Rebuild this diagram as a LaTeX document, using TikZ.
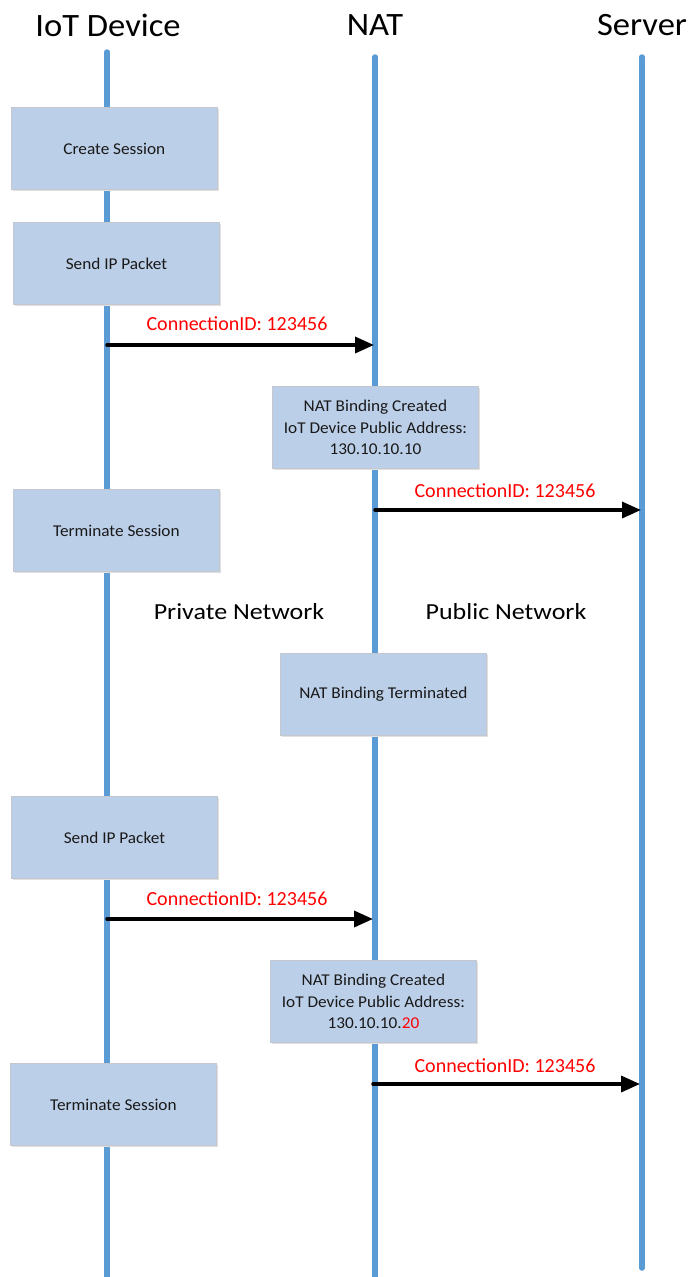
\documentclass[tikz,border=0pt]{standalone}
\usepackage{fontspec}
\setmainfont{Carlito}
\newfontfamily\actorfont{Carlito}[FakeStretch=1.06]
\newfontfamily\zonefont{Carlito}[FakeStretch=1.13]
\newfontfamily\boxfont{Carlito}[FakeStretch=1.045]
\usetikzlibrary{arrows.meta}
\definecolor{lifeblue}{RGB}{91,155,213}
\definecolor{boxfill}{RGB}{188,207,232}
\definecolor{boxline}{RGB}{196,200,206}
\definecolor{msgred}{RGB}{255,0,0}
\tikzset{
  lifeline/.style={line width=5.5pt, draw=lifeblue, line cap=round},
  actor/.style={font=\actorfont\fontsize{32.6}{36}\selectfont, anchor=center, inner sep=0pt},
  stepbox/.style={draw=boxline, line width=0.8pt, fill=boxfill, minimum width=206pt,
    minimum height=82pt, inner sep=0pt, align=center, anchor=north west,
    font=\boxfont\fontsize{16.5}{21.5}\selectfont, text=black!90},
  shade/.style={fill=black!12, draw=none},
  msg/.style={line width=3.5pt, line cap=round, -{Triangle[length=19pt,width=16pt]}},
  msglabel/.style={text=msgred, font=\fontsize{20}{24}\selectfont, inner sep=0pt, anchor=center},
  zone/.style={font=\zonefont\fontsize{23}{26}\selectfont, inner sep=0pt, anchor=center},
}
\begin{document}
\begin{tikzpicture}[x=1pt, y=-1pt]
  \useasboundingbox (0,0) rectangle (688,1277);
  \fill[white] (0,0) rectangle (688,1277);

  % participants
  \node[actor] (iot) at (108,25.5) {IoT Device};
  \node[actor] (nat) at (375,25.5) {NAT};
  \node[actor] (srv) at (642,25.5) {Server};

  % lifelines
  \coordinate (iottop) at (107,52);  \coordinate (iotbot) at (107,1290);
  \coordinate (nattop) at (375,57);  \coordinate (natbot) at (375,1290);
  \coordinate (srvtop) at (642,57);  \coordinate (srvbot) at (642,1268);
  \draw[lifeline] (iottop) -- (iotbot);
  \draw[lifeline] (nattop) -- (natbot);
  \draw[lifeline] (srvtop) -- (srvbot);

  % activity boxes (soft shadow first)
  \foreach \x/\y in {11/107, 13/222, 272/386, 13/489, 280/653, 11/796, 270/960, 10/1063}
    \fill[shade] (\x+1.5,\y+1.5) rectangle (\x+207.5,\y+83.5);
  \node[stepbox] (create)  at (11,107)  {Create Session};
  \node[stepbox] (send1)   at (13,222)  {Send IP Packet};
  \node[stepbox] (bind1)   at (272,386) {NAT Binding Created\\IoT Device Public Address:\\130.10.10.10};
  \node[stepbox] (term1)   at (13,489)  {Terminate Session};
  \node[stepbox] (unbind)  at (280,653) {NAT Binding Terminated};
  \node[stepbox] (send2)   at (11,796)  {Send IP Packet};
  \node[stepbox] (bind2)   at (270,960) {NAT Binding Created\\IoT Device Public Address:\\130.10.10.\textcolor{msgred}{20}};
  \node[stepbox] (term2)   at (10,1063) {Terminate Session};

  % network zones
  \node[zone] (priv) at (239,612) {Private Network};
  \node[zone] (pub)  at (506,612) {Public Network};

  % messages
  \coordinate (m1s) at (107,345);  \coordinate (m1e) at (374,345);
  \coordinate (m2s) at (375,510);  \coordinate (m2e) at (641,510);
  \coordinate (m3s) at (107,919);  \coordinate (m3e) at (373,919);
  \coordinate (m4s) at (373,1084); \coordinate (m4e) at (640,1084);
  \draw[msg] (m1s) -- (m1e);
  \draw[msg] (m2s) -- (m2e);
  \draw[msg] (m3s) -- (m3e);
  \draw[msg] (m4s) -- (m4e);
  \node[msglabel] (l1) at (237,323.5)  {ConnectionID: 123456};
  \node[msglabel] (l2) at (505,490.5)  {ConnectionID: 123456};
  \node[msglabel] (l3) at (237,898.5)  {ConnectionID: 123456};
  \node[msglabel] (l4) at (505,1065.5) {ConnectionID: 123456};
\end{tikzpicture}
\end{document}
